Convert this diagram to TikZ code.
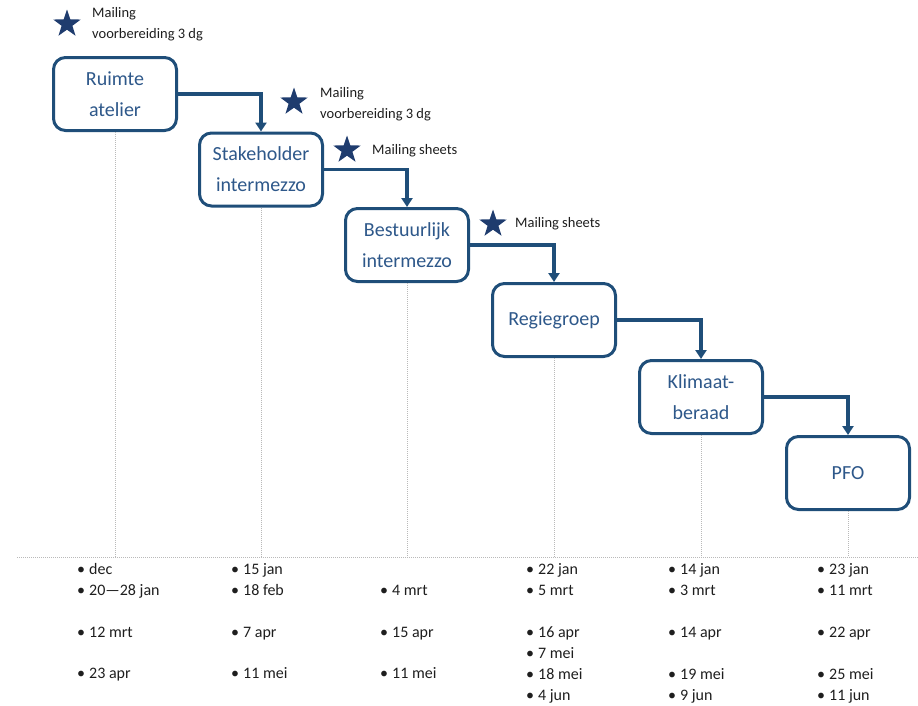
\documentclass[tikz,border=0pt]{standalone}
\usepackage{fontspec}
\setmainfont{Carlito}
\usetikzlibrary{arrows.meta,shapes.geometric}
\definecolor{navy}{RGB}{31,78,121}
\definecolor{boxtext}{RGB}{46,88,138}
\definecolor{startone}{RGB}{31,60,110}
\definecolor{datetext}{RGB}{30,30,30}
\definecolor{gridgrey}{RGB}{185,185,185}
\tikzset{
  stagebox/.style={draw=navy, line width=3pt, rounded corners=12pt, fill=white,
    minimum width=123pt, minimum height=73pt, align=center, text=boxtext,
    font=\fontsize{20}{31}\selectfont, inner sep=0pt},
  flow/.style={draw=navy, line width=3.2pt, -{Triangle[width=11pt,length=9pt]}},
  guide/.style={draw=gridgrey, line width=0.8pt, dash pattern=on 1pt off 1pt},
  starmark/.style={star, star points=5, star point ratio=2.55, fill=startone,
    draw=none, inner sep=0pt, minimum size=29pt},
  mailtext/.style={anchor=west, align=left, text=datetext, inner sep=0pt,
    font=\fontsize{14.5}{21}\selectfont},
  datetxt/.style={anchor=base west, inner sep=0pt, text=datetext,
    font=\fontsize{16}{19}\selectfont},
}
\newcommand{\bl}{\textbullet\hspace{4pt}}
\begin{document}
\begin{tikzpicture}[x=1pt,y=-1pt]
\useasboundingbox (0,0) rectangle (918,705);

% baseline
\coordinate (baseW) at (17,557);
\coordinate (baseE) at (918,557);
\draw[guide] (baseW) -- (baseE);

% boxes
\node[stagebox] (b1) at (115,94) {Ruimte\\atelier};
\node[stagebox] (b2) at (261,169.5) {Stakeholder\\intermezzo};
\node[stagebox] (b3) at (407,245) {Bestuurlijk\\intermezzo};
\node[stagebox] (b4) at (554,320) {Regiegroep};
\node[stagebox] (b5) at (701,397) {Klimaat-\\beraad};
\node[stagebox] (b6) at (848,473) {PFO};

% guides
\foreach \b in {b1,b2,b3,b4,b5,b6}
  \draw[guide] (\b.south) -- (\b.south |- baseW);

% arrows
\draw[flow] (b1.east) -| (b2.north);
\draw[flow] (b2.east) -| (b3.north);
\draw[flow] (b3.east) -| (b4.north);
\draw[flow] (b4.east) -| (b5.north);
\draw[flow] (b5.east) -| (b6.north);

% stars and mailing labels
\node[starmark] (s1) at (67,24) {};
\node[mailtext] (m1) at (92,24.5) {Mailing\\voorbereiding 3 dg};
\node[starmark] (s2) at (294,102) {};
\node[mailtext] (m2) at (320,104.5) {Mailing\\voorbereiding 3 dg};
\node[starmark] (s3) at (347,150) {};
\node[mailtext] (m3) at (372,151) {Mailing sheets};
\node[starmark] (s4) at (493,224) {};
\node[mailtext] (m4) at (515,224) {Mailing sheets};

% dates
% column 1
\node[datetxt] (d11) at (77,574) {\bl dec};
\node[datetxt] (d12) at (77,595) {\bl 20—28 jan};
\node[datetxt] (d13) at (77,637) {\bl 12 mrt};
\node[datetxt] (d15) at (77,678) {\bl 23 apr};
% column 2
\node[datetxt] (d21) at (231,574) {\bl 15 jan};
\node[datetxt] (d22) at (231,595) {\bl 18 feb};
\node[datetxt] (d23) at (231,637) {\bl 7 apr};
\node[datetxt] (d25) at (231,678) {\bl 11 mei};
% column 3
\node[datetxt] (d32) at (380,595) {\bl 4 mrt};
\node[datetxt] (d33) at (380,637) {\bl 15 apr};
\node[datetxt] (d35) at (380,678) {\bl 11 mei};
% column 4
\node[datetxt] (d41) at (526,574) {\bl 22 jan};
\node[datetxt] (d42) at (526,595) {\bl 5 mrt};
\node[datetxt] (d43) at (526,637) {\bl 16 apr};
\node[datetxt] (d44) at (526,658) {\bl 7 mei};
\node[datetxt] (d45) at (526,679) {\bl 18 mei};
\node[datetxt] (d46) at (526,700) {\bl 4 jun};
% column 5
\node[datetxt] (d51) at (668,574) {\bl 14 jan};
\node[datetxt] (d52) at (668,595) {\bl 3 mrt};
\node[datetxt] (d53) at (668,637) {\bl 14 apr};
\node[datetxt] (d55) at (668,679) {\bl 19 mei};
\node[datetxt] (d56) at (668,700) {\bl 9 jun};
% column 6
\node[datetxt] (d61) at (817,574) {\bl 23 jan};
\node[datetxt] (d62) at (817,595) {\bl 11 mrt};
\node[datetxt] (d63) at (817,637) {\bl 22 apr};
\node[datetxt] (d65) at (817,679) {\bl 25 mei};
\node[datetxt] (d66) at (817,700) {\bl 11 jun};
\end{tikzpicture}
\end{document}
